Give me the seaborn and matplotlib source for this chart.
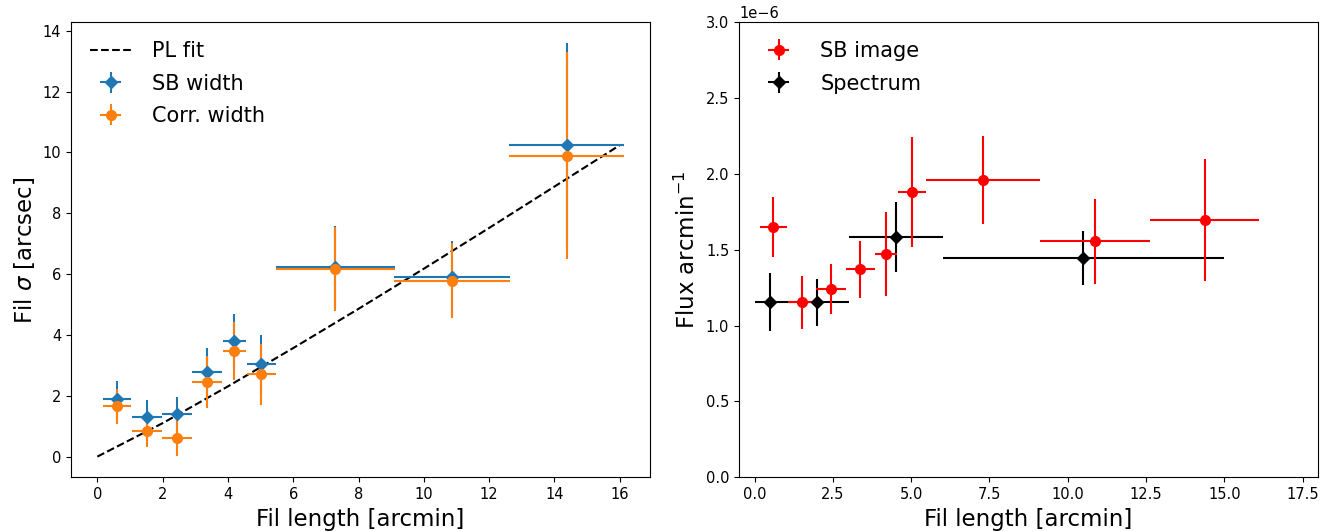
import matplotlib
matplotlib.use("Agg")
import matplotlib.pyplot as plt
import seaborn as sns

# filament length bins (arcmin) and half widths
fil_len = [0.6, 1.52, 2.44, 3.37, 4.2, 5.02, 7.29, 10.87, 14.37]
fil_len_err = [0.44, 0.46, 0.47, 0.46, 0.35, 0.44, 1.82, 1.77, 1.75]

# widths (arcsec)
sb_width = [1.88, 1.30, 1.41, 2.78, 3.80, 3.03, 6.24, 5.90, 10.24]
sb_width_err = [0.60, 0.55, 0.55, 0.80, 0.90, 0.96, 1.33, 1.20, 3.36]
corr_width = [1.66, 0.84, 0.62, 2.45, 3.48, 2.71, 6.17, 5.79, 9.90]
corr_width_err = [0.58, 0.53, 0.59, 0.86, 0.95, 1.00, 1.38, 1.23, 3.40]

# power-law fit
pl_x = [0, 2, 4, 6, 8, 10, 12, 14, 16]
pl_y = [0, 1.10, 2.31, 3.57, 4.86, 6.18, 7.52, 8.88, 10.24]

# flux per arcmin
sb_flux = [1.652e-6, 1.154e-6, 1.243e-6, 1.371e-6, 1.472e-6, 1.881e-6, 1.960e-6, 1.556e-6, 1.696e-6]
sb_flux_err = [0.198e-6, 0.174e-6, 0.165e-6, 0.19e-6, 0.275e-6, 0.36e-6, 0.29e-6, 0.28e-6, 0.40e-6]

spec_len = [0.5, 2.0, 4.5, 10.5]
spec_len_err = [0.5, 1.0, 1.5, 4.5]
spec_flux = [1.154e-6, 1.154e-6, 1.584e-6, 1.446e-6]
spec_flux_err = [0.19e-6, 0.155e-6, 0.23e-6, 0.18e-6]

sns.set_style("ticks", {'text.color': 'k', 'axes.labelcolor': 'k',
                        'xtick.color': 'k', 'ytick.color': 'k',
                        'axes.edgecolor': 'k'})
plt.rcParams['font.family'] = ['DejaVu Sans']

fig = plt.figure(figsize=(13.37, 5.31), dpi=100)
ax1 = fig.add_axes([0.0531, 0.1011, 0.4331, 0.8569])
ax2 = fig.add_axes([0.5527, 0.1011, 0.4333, 0.8569])

blue, orange = sns.color_palette("tab10")[:2]
leg_kw = dict(loc='upper left', frameon=False, fontsize=15,
              labelspacing=0.6, handletextpad=1.0)

# left panel
sns.lineplot(x=pl_x, y=pl_y, ax=ax1, color='k', linestyle='--', label='PL fit')
ax1.errorbar(fil_len, sb_width, xerr=fil_len_err, yerr=sb_width_err,
             fmt='D', ms=6.5, color=blue, label='SB width')
ax1.errorbar(fil_len, corr_width, xerr=fil_len_err, yerr=corr_width_err,
             fmt='o', ms=7, color=orange, label='Corr. width')
ax1.set_xlabel('Fil length [arcmin]', fontsize=16.5)
ax1.set_ylabel(r'Fil $\sigma$ [arcsec]', fontsize=16.5)
ax1.legend(**leg_kw)

# right panel
h_spec = ax2.errorbar(spec_len, spec_flux, xerr=spec_len_err, yerr=spec_flux_err,
                      fmt='D', ms=6.5, color='k', label='Spectrum')
h_sb = ax2.errorbar(fil_len, sb_flux, xerr=fil_len_err, yerr=sb_flux_err,
                    fmt='o', ms=7, color='red', label='SB image')
ax2.set_xlim(-0.5, 18)
ax2.set_ylim(0, 3e-6)
ax2.set_xlabel('Fil length [arcmin]', fontsize=16.5)
ax2.set_ylabel(r'Flux arcmin$^{-1}$', fontsize=16.5)
ax2.legend(handles=[h_sb, h_spec], **leg_kw)

for ax in (ax1, ax2):
    ax.tick_params(labelsize=10.5, direction='out', length=3.5, width=0.8, colors='k')
    ax.yaxis.get_offset_text().set_fontsize(10.5)
    for s in ax.spines.values():
        s.set_color('k')
        s.set_linewidth(0.8)

fig.savefig('out.png', dpi=100)
